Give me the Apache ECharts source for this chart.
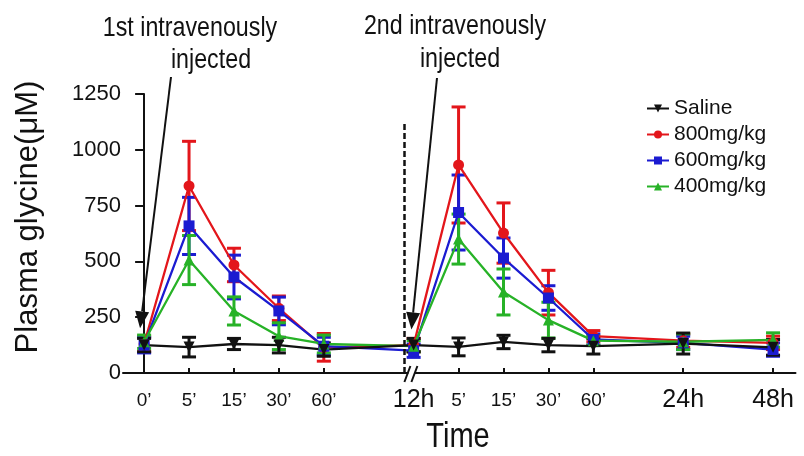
<!DOCTYPE html>
<html><head><meta charset="utf-8">
<script src="https://cdn.jsdelivr.net/npm/echarts@6.0.0/dist/echarts.min.js"></script>
<style>html,body{margin:0;padding:0;background:#fff}#c{width:804px;height:456px}</style>
</head><body><div id="c"></div>
<script>
// x positions (axis units) and tick labels
const xPos = [0, 1, 2, 3, 4, 6, 7, 8, 9, 10, 12, 14];
const xLabels = ["0’", "5’", "15’", "30’", "60’", "12h", "5’", "15’", "30’", "60’", "24h", "48h"];
const yTicks = [0, 250, 500, 750, 1000, 1250];
const seriesNames = ["Saline", "800mg/kg", "600mg/kg", "400mg/kg"];

// means
const saline = [125, 116, 130, 125, 105, 125, 117, 139, 125, 120, 132, 115];
const d800   = [130, 838, 484, 290, 115, 125, 932, 627, 360, 165, 145, 135];
const d600   = [125, 659, 430, 278, 120, 100, 719, 515, 336, 150, 135, 105];
const d400   = [140, 506, 278, 165, 130, 120, 600, 363, 237, 145, 140, 148];
// error (half-length of error bar)
const eSaline = [30, 44, 25, 35, 30, 30, 40, 30, 30, 35, 47, 35];
const e800    = [35, 200, 75, 55, 62, 30, 260, 135, 100, 25, 30, 30];
const e600    = [35, 128, 98, 62, 40, 30, 168, 90, 55, 25, 30, 30];
const e400    = [30, 110, 63, 60, 40, 25, 112, 103, 80, 20, 35, 32];

const colors = { "Saline": "#111111", "800mg/kg": "#e3161b", "600mg/kg": "#1b1bd1", "400mg/kg": "#27b227" };
const symbols = { "Saline": ["triangle", 180], "800mg/kg": ["circle", 0], "600mg/kg": ["rect", 0], "400mg/kg": ["triangle", 0] };
const means = { "Saline": saline, "800mg/kg": d800, "600mg/kg": d600, "400mg/kg": d400 };
const errs = { "Saline": eSaline, "800mg/kg": e800, "600mg/kg": e600, "400mg/kg": e400 };

const FONT = '"Liberation Sans", Arial, Helvetica, sans-serif';

const chart = echarts.init(document.getElementById('c'), null, { renderer: 'canvas' });

function errSeries(name) {
  const m = means[name], e = errs[name];
  return {
    type: 'custom', name: name + ' err', silent: true, z: 2,
    data: xPos.map((x, i) => [x, m[i] - e[i], m[i] + e[i]]),
    renderItem: function (params, api) {
      const x = api.value(0);
      const top = api.coord([x, api.value(2)]);
      const bot = api.coord([x, api.value(1)]);
      const w = 7;
      const st = { stroke: colors[name], lineWidth: 3 };
      return {
        type: 'group', children: [
          { type: 'line', shape: { x1: top[0], y1: top[1], x2: bot[0], y2: bot[1] }, style: st },
          { type: 'line', shape: { x1: top[0] - w, y1: top[1], x2: top[0] + w, y2: top[1] }, style: st },
          { type: 'line', shape: { x1: bot[0] - w, y1: bot[1], x2: bot[0] + w, y2: bot[1] }, style: st }
        ]
      };
    }
  };
}
function lineSeries(name) {
  return {
    type: 'line', name: name, z: 3,
    data: xPos.map((x, i) => [x, means[name][i]]),
    symbol: symbols[name][0], symbolRotate: symbols[name][1], symbolSize: 11,
    showAllSymbol: true,
    lineStyle: { color: colors[name], width: 2.3 },
    itemStyle: { color: colors[name] },
    emphasis: { disabled: true },
    animation: false
  };
}

const order = ["800mg/kg", "600mg/kg", "400mg/kg", "Saline"];
const series = [];
order.forEach(n => { series.push(errSeries(n)); series.push(lineSeries(n)); });
// dashed separator line
series[0].markLine = {
  silent: true, symbol: ['none', 'none'], label: { show: false },
  lineStyle: { color: '#111', type: [6, 3], width: 2.5 },
  data: [[{ coord: [5.8, 0] }, { coord: [5.8, 1125] }]]
};

chart.setOption({
  animation: false,
  textStyle: { fontFamily: FONT },
  grid: { left: 123, right: 8.5, top: 94, bottom: 83, containLabel: false },
  legend: {
    data: seriesNames, orient: 'vertical', left: 641, top: 93,
    itemWidth: 22, itemHeight: 10, itemGap: 5,
    textStyle: { fontSize: 21, color: '#111', fontFamily: FONT },
    selectedMode: false
  },
  xAxis: {
    type: 'value', min: -0.47, max: 14.5,
    axisLine: { show: true, onZero: false, lineStyle: { color: '#111', width: 2 } },
    axisTick: { show: true, inside: true, length: 5, lineStyle: { color: '#111', width: 2 },
      customValues: xPos.filter(v => v !== 6) },
    splitLine: { show: false },
    axisLabel: {
      customValues: xPos, margin: 15, color: '#111',
      formatter: function (v) {
        const i = xPos.findIndex(p => Math.abs(p - v) < 1e-6);
        if (i < 0) return '';
        const t = xLabels[i];
        return t.endsWith('h') ? '{b|' + t + '}' : '{s|' + t + '}';
      },
      rich: {
        b: { fontSize: 25, fontFamily: FONT, color: '#111' },
        s: { fontSize: 19, fontFamily: FONT, color: '#111', padding: [3, 0, 0, 0] }
      }
    }
  },
  yAxis: {
    type: 'value', min: 0, max: 1250, interval: 250,
    axisLine: { show: true, lineStyle: { color: '#111', width: 2 } },
    axisTick: { show: true, length: 9, lineStyle: { color: '#111', width: 2 } },
    splitLine: { show: false },
    axisLabel: { fontSize: 22, color: '#111', margin: 2, fontFamily: FONT,
      formatter: v => String(v) }
  },
  series: series
});

// annotations
function px(p) { return chart.convertToPixel({ gridIndex: 0 }, p); }
function arrow(x1, y1, tip) {
  const x2 = tip[0], y2 = tip[1];
  const ang = Math.atan2(y2 - y1, x2 - x1);
  const L = 17, W = 7;
  const bx = x2 - L * Math.cos(ang), by = y2 - L * Math.sin(ang);
  const nx = -Math.sin(ang), ny = Math.cos(ang);
  return [
    { type: 'line', shape: { x1: x1, y1: y1, x2: bx, y2: by }, style: { stroke: '#111', lineWidth: 2 } },
    { type: 'polygon', shape: { points: [[x2, y2], [bx + nx * W, by + ny * W], [bx - nx * W, by - ny * W]] }, style: { fill: '#111' } }
  ];
}
function ntext(t, x, y, size) {
  return { type: 'text', x: x, y: y, scaleX: 0.83, scaleY: 1,
    style: { text: t, x: 0, y: 0, align: 'center', verticalAlign: 'middle', font: size + 'px ' + FONT, fill: '#111' } };
}
const tip1 = px([-0.09, 200]);
const tip2 = px([5.95, 195]);
const brk = px([5.95, 0]);
const g = [];
g.push(ntext('1st intravenously', 190, 28, 28));
g.push(ntext('injected', 211, 60, 28));
g.push(ntext('2nd intravenously', 455, 26, 28));
g.push(ntext('injected', 460, 59, 28));
g.push(ntext('Time', 458, 437, 35));
g.push({ type: 'text', rotation: Math.PI / 2, x: 28, y: 217, style: { text: 'Plasma glycine(μM)', x: 0, y: 0, align: 'center', verticalAlign: 'middle', font: '31px ' + FONT, fill: '#111' } });
arrow(171, 77, tip1).forEach(e => g.push(e));
arrow(437, 78, tip2).forEach(e => g.push(e));
// axis break marks
g.push({ type: 'rect', z: 10, shape: { x: brk[0] - 3, y: brk[1] - 3, width: 6, height: 6 }, style: { fill: '#fff' } });
[-4, 3].forEach(d => g.push({ type: 'line', z: 11, shape: { x1: brk[0] + d - 3, y1: brk[1] + 9, x2: brk[0] + d + 3, y2: brk[1] - 7 }, style: { stroke: '#111', lineWidth: 2 } }));
chart.setOption({ graphic: g });
</script></body></html>
